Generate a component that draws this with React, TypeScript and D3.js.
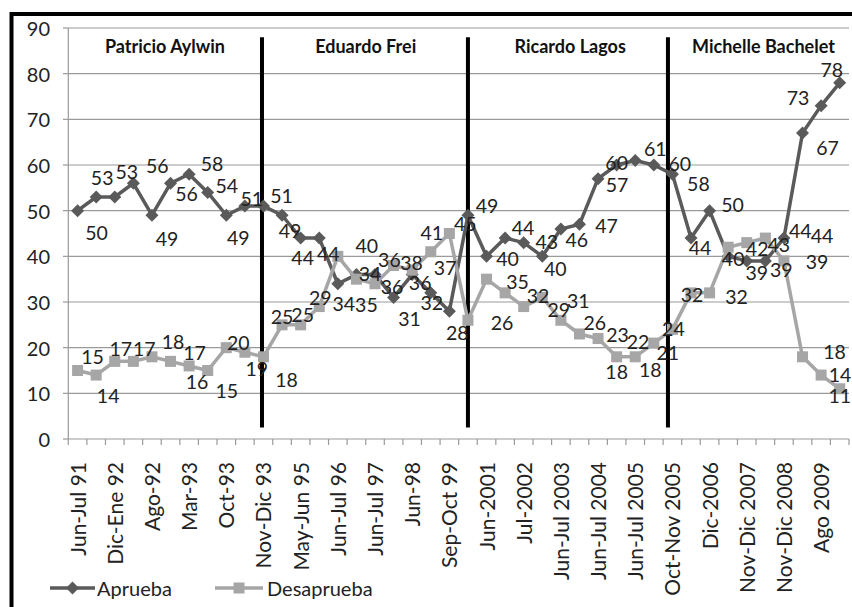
import React from "react";
import * as d3 from "d3";

// ---- data ----
const categories: string[] = [
  "Jun-Jul 91", "", "Dic-Ene 92", "", "Ago-92", "", "Mar-93", "", "Oct-93", "",
  "Nov-Dic 93", "", "May-Jun 95", "", "Jun-Jul 96", "", "Jun-Jul 97", "", "Jun-98", "",
  "Sep-Oct 99", "", "Jun-2001", "", "Jul-2002", "", "Jun-Jul 2003", "", "Jun-Jul 2004", "",
  "Jun-Jul 2005", "", "Oct-Nov 2005", "", "Dic-2006", "", "Nov-Dic 2007", "", "Nov-Dic 2008", "",
  "Ago 2009", "",
];
const aprueba: number[] = [
  50, 53, 53, 56, 49, 56, 58, 54, 49, 51, 51, 49, 44, 44, 34, 36, 36, 31, 36, 32, 28,
  49, 40, 44, 43, 40, 46, 47, 57, 60, 61, 60, 58, 44, 50, 40, 39, 39, 44, 67, 73, 78,
];
const desaprueba: number[] = [
  15, 14, 17, 17, 18, 17, 16, 15, 20, 19, 18, 25, 25, 29, 40, 35, 34, 38, 37, 41, 45,
  26, 35, 32, 29, 31, 26, 23, 22, 18, 18, 21, 24, 32, 32, 42, 43, 44, 39, 18, 14, 11,
];
const yTicks: number[] = [0, 10, 20, 30, 40, 50, 60, 70, 80, 90];
const presidents: string[] = ["Patricio Aylwin", "Eduardo Frei", "Ricardo Lagos", "Michelle Bachelet"];
// presidents' label centre, in category units
const presidentCenters: number[] = [4.7, 15.5, 26.5, 36.9];
// separators between terms, in category units
const separators: number[] = [9.92, 21, 31.76];
const seriesNames: string[] = ["Aprueba", "Desaprueba"];

// label offsets (style), px relative to each point
const apruebaLabelOffset: [number, number][] = [
  [19, 22], [6, -19], [12, -25], [24, -18], [15, 23], [16, 10], [23, -11], [19, -7], [12, 22], [7, -8],
  [18, -11], [8, 15], [2, 19], [9, 15], [6, 20], [33, -15], [17, 12], [16, 21], [8, 8], [1, 10],
  [8, 21], [19, -10], [21, 2], [18, -11], [23, -1], [13, 12], [16, 11], [27, 1], [19, 6], [0, -3],
  [20, -12], [26, -2], [26, 9], [9, 9], [23, -6], [5, 2], [10, 12], [16, 9], [38, -3], [25, 14],
  [-23, -8], [-8, -13],
];
const desapruebaLabelOffset: [number, number][] = [
  [15, -14], [12, 20], [6, -13], [11, -13], [21, -15], [24, -9], [8, 16], [19, 20], [12, -5], [12, 16],
  [23, 23], [0, -8], [2, -10], [1, -9], [29, -11], [10, 25], [-5, -10], [18, -3], [33, -3], [1, -19],
  [16, -10], [34, 2], [31, 2], [33, 3], [35, 3], [36, 3], [34, 2], [38, 1], [40, 3], [0, 15],
  [15, 13], [14, 9], [1, -1], [1, 2], [27, 4], [29, 1], [32, 2], [35, -8], [33, 1], [32, -5],
  [19, -1], [0, 7],
];

const W = 852;
const H = 607;
const FONT = "Lato, 'Open Sans', sans-serif";
const DARK = "#5a5a5a";
const LIGHT = "#a6a6a6";
const GRID = "#9a9a9a";

export default function App() {
  const idx = categories.map((_, i) => String(i));
  const x = d3.scaleBand<string>().domain(idx).range([68.3, 849]).paddingInner(0).paddingOuter(0);
  const bw = x.bandwidth();
  const cx = (i: number) => (x(String(Math.floor(i))) as number) + bw / 2 + (i - Math.floor(i)) * bw;
  const y = d3.scaleLinear().domain([0, 90]).range([439, 28]);

  const line = d3
    .line<number>()
    .x((_, i) => cx(i))
    .y((d) => y(d));

  const diamond = (px: number, py: number, r: number) =>
    `M${px},${py - r}L${px + r},${py}L${px},${py + r}L${px - r},${py}Z`;

  const tickXs = d3.range(categories.length + 1).map((k) => 68.3 + k * bw);

  return (
    <svg
      width={W}
      height={H}
      style={{ position: "absolute", left: 0, top: 0, background: "#fff" }}
      fontFamily={FONT}
    >
      <defs>
        <filter id="shadow" x="-50%" y="-5%" width="200%" height="110%">
          <feGaussianBlur stdDeviation="1.5" />
        </filter>
      </defs>
      <rect x={0} y={0} width={W} height={H} fill="#fff" />
      {/* frame */}
      <rect x={11.5} y={14} width={W + 20} height={H + 20} fill="none" stroke="#000" strokeWidth={4} />

      {/* gridlines */}
      {yTicks.map((t) => (
        <line key={"g" + t} x1={68.3} x2={849} y1={y(t)} y2={y(t)} stroke={GRID} strokeWidth={1.2} />
      ))}
      {/* y axis */}
      <line x1={68.3} x2={68.3} y1={y(90)} y2={y(0)} stroke={GRID} strokeWidth={1.2} />
      {yTicks.map((t) => (
        <g key={"yt" + t}>
          <line x1={63} x2={68.3} y1={y(t)} y2={y(t)} stroke={GRID} strokeWidth={1.2} />
          <text x={50} y={y(t)} textAnchor="end" dominantBaseline="central" fontSize={20} fill="#222">
            {t}
          </text>
        </g>
      ))}
      {/* x ticks */}
      {tickXs.map((tx, k) => (
        <line key={"xt" + k} x1={tx} x2={tx} y1={y(0)} y2={y(0) + 6} stroke={GRID} strokeWidth={1.2} />
      ))}
      {categories.map((c, i) =>
        c ? (
          <text
            key={"xl" + i}
            transform={`translate(${cx(i) + 8},462) rotate(-90)`}
            textAnchor="end"
            fontSize={21}
            fill="#222"
          >
            {c}
          </text>
        ) : null
      )}

      {/* separators */}
      {separators.map((s, k) => (
        <g key={"sep" + k}>
          <line x1={cx(s) + 2} x2={cx(s) + 2} y1={y(87.5)} y2={y(2.3)} stroke="#888" strokeWidth={4} filter="url(#shadow)" />
          <line x1={cx(s)} x2={cx(s)} y1={y(88)} y2={y(2.5)} stroke="#000" strokeWidth={4} />
        </g>
      ))}

      {/* president names */}
      {presidents.map((p, k) => (
        <text
          key={"p" + k}
          x={cx(presidentCenters[k])}
          y={53}
          textAnchor="middle"
          fontSize={18}
          fontWeight="bold"
          fill="#111"
        >
          {p}
        </text>
      ))}

      {/* series */}
      <path d={line(aprueba) || ""} fill="none" stroke={DARK} strokeWidth={3.5} strokeLinejoin="round" />
      {aprueba.map((v, i) => (
        <path key={"am" + i} d={diamond(cx(i), y(v), 6.5)} fill={DARK} />
      ))}
      <path d={line(desaprueba) || ""} fill="none" stroke={LIGHT} strokeWidth={3.5} strokeLinejoin="round" />
      {desaprueba.map((v, i) => (
        <rect key={"dm" + i} x={cx(i) - 5.5} y={y(v) - 5.5} width={11} height={11} fill={LIGHT} />
      ))}

      {/* data labels */}
      {aprueba.map((v, i) => (
        <text
          key={"al" + i}
          x={cx(i) + apruebaLabelOffset[i][0]}
          y={y(v) + apruebaLabelOffset[i][1]}
          textAnchor="middle"
          dominantBaseline="central"
          fontSize={19.5}
          fill="#222"
        >
          {v}
        </text>
      ))}
      {desaprueba.map((v, i) => (
        <text
          key={"dl" + i}
          x={cx(i) + desapruebaLabelOffset[i][0]}
          y={y(v) + desapruebaLabelOffset[i][1]}
          textAnchor="middle"
          dominantBaseline="central"
          fontSize={19.5}
          fill="#222"
        >
          {v}
        </text>
      ))}

      {/* legend */}
      <g>
        <line x1={50} x2={95} y1={588} y2={588} stroke={DARK} strokeWidth={3.5} />
        <path d={diamond(72.5, 588, 6.5)} fill={DARK} />
        <text x={97} y={588} dominantBaseline="central" fontSize={20} fill="#222">
          {seriesNames[0]}
        </text>
        <line x1={215} x2={263} y1={588} y2={588} stroke={LIGHT} strokeWidth={3.5} />
        <rect x={233.5} y={582.5} width={11} height={11} fill={LIGHT} />
        <text x={267} y={588} dominantBaseline="central" fontSize={20} fill="#222">
          {seriesNames[1]}
        </text>
      </g>
    </svg>
  );
}
